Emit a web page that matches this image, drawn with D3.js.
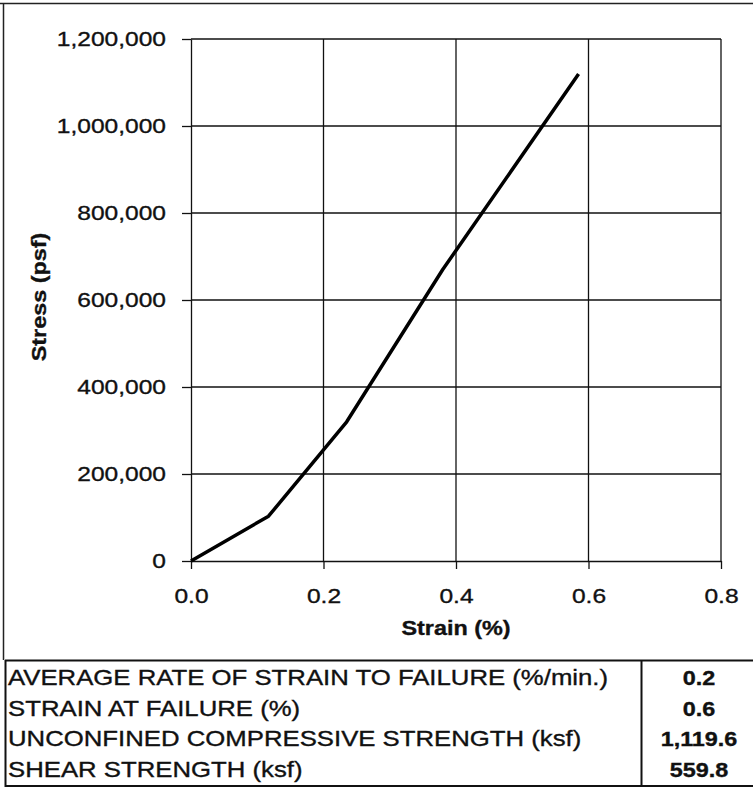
<!DOCTYPE html>
<html>
<head>
<meta charset="utf-8">
<script src="https://cdn.jsdelivr.net/npm/d3@7"></script>
<style>
  body { margin: 0; background: #fff; }
  text { font-family: "Liberation Sans", Arial, sans-serif; fill: #111; stroke: #111; stroke-width: 0.35px; }
</style>
</head>
<body>
<div class="root"></div>
<script>
// stress-strain curve
const strain = [0, 0.117, 0.235, 0.38, 0.585];
const stress = [0, 103000, 320000, 670000, 1119600];

const xTicks = [0, 0.2, 0.4, 0.6, 0.8];
const yTicks = [0, 200000, 400000, 600000, 800000, 1000000, 1200000];

const tableLabels = [
  'AVERAGE RATE OF STRAIN TO FAILURE (%/min.)',
  'STRAIN AT FAILURE (%)',
  'UNCONFINED COMPRESSIVE STRENGTH (ksf)',
  'SHEAR STRENGTH (ksf)'
];
const tableValues = ['0.2', '0.6', '1,119.6', '559.8'];

const svgWidth = 753;
const svgHeight = 787;
const sx = 1.17; // the scan's text is drawn wide

const svg = d3.select('.root')
  .append('svg')
  .attr('width', svgWidth)
  .attr('height', svgHeight);

const x = d3.scaleLinear().domain([0, 0.8]).range([191, 721]);
const y = d3.scaleLinear().domain([0, 1200000]).range([561, 39]);

// outer frame (top and left)
svg.append('path')
  .attr('d', 'M0,3.5H753M3.5,3.5V660')
  .attr('fill', 'none')
  .attr('stroke', '#222')
  .attr('stroke-width', 1.5);

// grid
const grid = svg.append('g').attr('stroke', '#111').attr('stroke-width', 1.3);
grid.selectAll('.hgrid')
  .data(yTicks.slice(1))
  .enter().append('line')
  .attr('x1', x(0)).attr('x2', x(0.8))
  .attr('y1', d => y(d)).attr('y2', d => y(d));
grid.selectAll('.vgrid')
  .data(xTicks.slice(1))
  .enter().append('line')
  .attr('x1', d => x(d)).attr('x2', d => x(d))
  .attr('y1', y(0)).attr('y2', y(1200000));

// axes
const yAxis = svg.append('g')
  .attr('transform', `translate(${x(0)},0)`)
  .call(d3.axisLeft(y).tickValues(yTicks).tickFormat(d3.format(',')).tickSize(9).tickSizeOuter(0).tickPadding(16));
const xAxis = svg.append('g')
  .attr('transform', `translate(0,${y(0)})`)
  .call(d3.axisBottom(x).tickValues(xTicks).tickFormat(d3.format('.1f')).tickSize(8).tickSizeOuter(0).tickPadding(19));

[yAxis, xAxis].forEach(a => {
  a.select('.domain').attr('stroke', '#111').attr('stroke-width', 1.3);
  a.selectAll('.tick line').attr('stroke', '#111').attr('stroke-width', 1.3);
  a.selectAll('.tick text')
    .attr('font-size', 21)
    .attr('font-family', '"Liberation Sans", Arial, sans-serif')
    .attr('fill', '#111');
});
yAxis.selectAll('.tick text')
  .attr('x', -25 / sx)
  .attr('transform', `scale(${sx},1)`);
xAxis.selectAll('.tick text')
  .attr('transform', `scale(${sx},1)`);

// axis titles
svg.append('text')
  .attr('transform', `translate(456,635) scale(${sx},1)`)
  .attr('text-anchor', 'middle')
  .attr('font-size', 20)
  .attr('font-weight', 'bold')
  .text('Strain (%)');

svg.append('text')
  .attr('transform', `translate(46,297) rotate(-90) scale(${sx},1)`)
  .attr('text-anchor', 'middle')
  .attr('font-size', 20)
  .attr('font-weight', 'bold')
  .text('Stress (psf)');

// the curve
const line = d3.line()
  .x(d => x(d[0]))
  .y(d => y(d[1]));

svg.append('path')
  .datum(strain.map((s, i) => [s, stress[i]]))
  .attr('d', line)
  .attr('fill', 'none')
  .attr('stroke', '#000')
  .attr('stroke-width', 3.5)
  .attr('stroke-linejoin', 'round');

// results table
const table = svg.append('g');
table.append('path')
  .attr('d', 'M5,660.5H753M5.5,660V787M641.5,660V787M5,786H753')
  .attr('fill', 'none')
  .attr('stroke', '#111')
  .attr('stroke-width', 2);

const rowY = d3.scaleLinear().domain([0, 3]).range([685, 776.5]);

table.selectAll('.label')
  .data(tableLabels)
  .enter().append('text')
  .attr('transform', (d, i) => `translate(8,${rowY(i)}) scale(${sx},1)`)
  .attr('font-size', 22)
  .text(d => d);

table.selectAll('.value')
  .data(tableValues)
  .enter().append('text')
  .attr('transform', (d, i) => `translate(699,${rowY(i)}) scale(${sx},1)`)
  .attr('text-anchor', 'middle')
  .attr('font-size', 20)
  .attr('font-weight', 'bold')
  .text(d => d);
</script>
</body>
</html>
